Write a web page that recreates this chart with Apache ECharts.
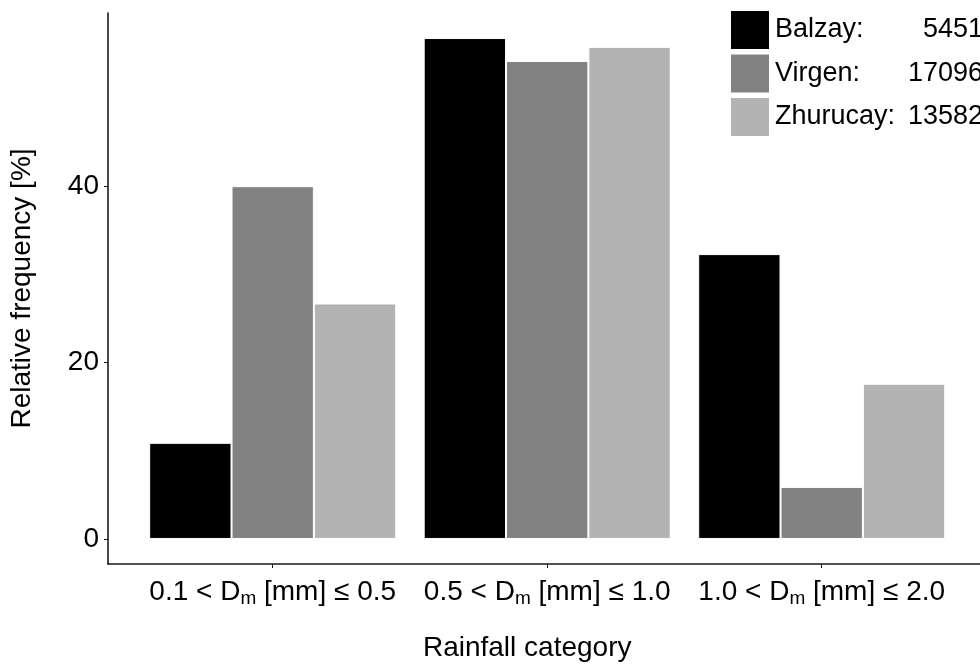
<!DOCTYPE html>
<html>
<head>
<meta charset="utf-8">
<script src="https://cdn.jsdelivr.net/npm/echarts@6/dist/echarts.min.js"></script>
<style>
  html, body { margin: 0; padding: 0; background: #fff; }
  #chart { width: 980px; height: 664px; }
</style>
</head>
<body>
<div id="chart"></div>
<script>
// rainfall categories (lower / upper bound of Dm in mm)
const categories = [
  ['0.1', '0.5'],
  ['0.5', '1.0'],
  ['1.0', '2.0'],
]
const stations = ['Balzay', 'Virgen', 'Zhurucay']
const stationCounts = ['5451', '17096', '13582']
const colors = ['#000000', '#828282', '#b3b3b3']

// relative frequency [%] per category
const balzay = [10.9, 56.8, 32.3]
const virgen = [40.0, 54.2, 5.9]
const zhurucay = [26.7, 55.8, 17.6]

const yTicks = [0, 20, 40]

const font = 'Liberation Sans, Arial, Helvetica, sans-serif'
const chart = echarts.init(document.getElementById('chart'))

const seriesValues = [balzay, virgen, zhurucay]
const xPos = categories.map((c, i) => i + 1)

const series = stations.map((name, s) => ({
  name,
  type: 'bar',
  barWidth: 82.35,
  barGap: '0%',
  itemStyle: { color: colors[s], borderColor: '#fff', borderWidth: 1 },
  data: seriesValues[s].map((v, i) => [xPos[i], v]),
}))

chart.setOption({
  animation: false,
  textStyle: { fontFamily: font },
  // plot panel runs past the right edge of the picture (ggplot-style 0.6 expansion)
  grid: { left: 108, top: 13, width: 878.4, height: 551, containLabel: false, outerBoundsMode: 'none' },
  legend: {
    orient: 'vertical',
    left: 729,
    top: 9,
    padding: 0,
    itemWidth: 40,
    itemHeight: 40,
    itemGap: 1.5,
    icon: 'rect',
    formatter: name => {
      const i = stations.indexOf(name)
      return '{n|' + name + ':}{c|' + stationCounts[i] + '}'
    },
    textStyle: {
      rich: {
        n: { fontFamily: font, fontSize: 27, color: '#000', width: 130 },
        c: { fontFamily: font, fontSize: 27, color: '#000', width: 78, align: 'right' },
      },
    },
  },
  xAxis: {
    type: 'value',
    min: 0.4,
    max: 3.6,
    name: 'Rainfall category',
    nameLocation: 'middle',
    nameGap: 70,
    nameTextStyle: { fontFamily: font, fontSize: 28, color: '#000', padding: [0, 40, 0, 0] },
    axisLine: { onZero: false, lineStyle: { color: '#1a1a1a', width: 1.6 } },
    axisTick: { customValues: xPos, length: 4, lineStyle: { color: '#1a1a1a', width: 1 } },
    splitLine: { show: false },
    axisLabel: {
      customValues: xPos,
      margin: 12,
      formatter: v => {
        const c = categories[Math.round(v) - 1]
        return '{n|' + c[0] + ' < D}{s|m}{n| [mm] \u2264 ' + c[1] + '}'
      },
      rich: {
        n: { fontFamily: font, fontSize: 28, color: '#000', lineHeight: 30 },
        s: { fontFamily: font, fontSize: 19, color: '#000', padding: [13, 0, 0, 0] },
      },
    },
  },
  yAxis: {
    type: 'value',
    min: -2.84,
    max: 59.64,
    name: 'Relative frequency [%]',
    nameLocation: 'middle',
    nameGap: 72,
    nameTextStyle: { fontFamily: font, fontSize: 28, color: '#000' },
    axisLine: { show: true, onZero: false, lineStyle: { color: '#1a1a1a', width: 1.6 } },
    axisTick: { show: true, customValues: yTicks, length: 4, lineStyle: { color: '#1a1a1a', width: 1 } },
    splitLine: { show: false },
    axisLabel: { customValues: yTicks, margin: 9, fontFamily: font, fontSize: 28, color: '#000' },
  },
  series,
})
</script>
</body>
</html>
